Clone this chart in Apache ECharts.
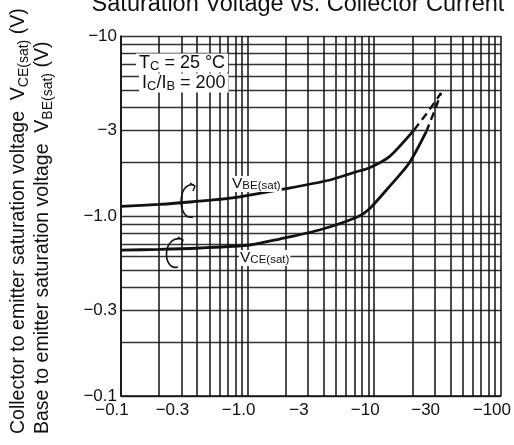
<!DOCTYPE html>
<html>
<head>
<meta charset="utf-8">
<script src="https://cdn.jsdelivr.net/npm/echarts@6/dist/echarts.min.js"></script>
<style>
  html, body { margin: 0; padding: 0; background: #fff; }
  #chart { width: 514px; height: 445px; }
</style>
</head>
<body>
<div id="chart"></div>
<script>
// collector current -Ic (A) vs saturation voltage (V), both plotted as magnitudes
var vbeCurrent = [0.1, 0.2, 0.37, 0.76, 1.9, 4.4, 7, 9.1, 13.1, 20.6]
var vbeVoltage = [1.13, 1.16, 1.2, 1.26, 1.41, 1.58, 1.75, 1.85, 2.13, 3.0]
var vbeDashCurrent = [20.6, 27, 33.7]
var vbeDashVoltage = [3.0, 3.85, 4.82]

var vceCurrent = [0.1, 0.2, 0.42, 1.04, 1.79, 3.69, 7.35, 9.14, 13.1, 18.9, 25.7]
var vceVoltage = [0.647, 0.652, 0.664, 0.69, 0.745, 0.836, 0.987, 1.094, 1.45, 1.97, 2.93]
var vceDashCurrent = [25.7, 30, 33.7]
var vceDashVoltage = [2.93, 3.85, 4.82]

var xLabelValues = [0.1, 0.3, 1, 3, 10, 30, 100]
var xLabelText = ['−0.1', '−0.3', '−1.0', '−3', '−10', '−30', '−100']
var yLabelValues = [0.1, 0.3, 1, 3, 10]
var yLabelText = ['−0.1', '−0.3', '−1.0', '−3', '−10']

var logGrid = function (from, to) {
  var out = []
  for (var d = from; d < to * 0.999; d *= 10) {
    for (var m = 1; m < 10; m++) out.push(+(m * d).toPrecision(3))
  }
  out.push(to)
  return out
}
var xGrid = logGrid(0.1, 100)
var yGrid = logGrid(0.1, 10)

var pick = function (values, texts) {
  return function (v) {
    for (var i = 0; i < values.length; i++) {
      if (Math.abs(v - values[i]) < values[i] * 1e-6) return texts[i]
    }
    return ''
  }
}
var pair = function (xs, ys) {
  return xs.map(function (x, i) { return [x, ys[i]] })
}

var font = 'Liberation Sans, Arial, sans-serif'
var ink = '#111'

var chart = echarts.init(document.getElementById('chart'))

var lineSeries = function (data, dashed) {
  return {
    type: 'line',
    data: data,
    showSymbol: false,
    smooth: dashed ? false : 0.25,
    silent: true,
    z: 5,
    lineStyle: { color: ink, width: dashed ? 2.4 : 2.8, type: dashed ? [8, 5] : 'solid' }
  }
}

var subText = function (x, y, text, big, small, lh, pad) {
  return {
    type: 'text', x: x, y: y, z: 100,
    style: {
      text: text,
      verticalAlign: 'middle', backgroundColor: '#fff', padding: pad, fill: ink,
      rich: {
        n: { fontSize: big, fontFamily: font, lineHeight: lh, verticalAlign: 'middle' },
        s: { fontSize: small, fontFamily: font, lineHeight: lh, verticalAlign: 'bottom' }
      }
    }
  }
}

var sideTitle = function (x, text) {
  return {
    type: 'text', x: x, y: 434, rotation: Math.PI / 2, z: 100,
    style: {
      text: text,
      align: 'left', verticalAlign: 'middle', fill: ink,
      rich: {
        n: { fontSize: 19.5, fontFamily: font, lineHeight: 25, verticalAlign: 'middle' },
        s: { fontSize: 14, fontFamily: font, lineHeight: 25, verticalAlign: 'bottom' }
      }
    }
  }
}

var option = {
  animation: false,
  grid: { left: 121, right: 12, top: 36, bottom: 49 },
  xAxis: {
    type: 'log',
    logBase: 10,
    min: 0.1,
    max: 100,
    axisLine: { show: true, lineStyle: { color: ink, width: 1.6 } },
    axisTick: { show: false, customValues: xGrid },
    splitLine: { show: true, lineStyle: { color: '#111', width: 1.5 } },
    axisLabel: {
      customValues: xLabelValues,
      formatter: pick(xLabelValues, xLabelText),
      color: ink,
      fontFamily: font,
      fontSize: 17,
      margin: 6,
      padding: [0, 18, 0, 0]
    }
  },
  yAxis: {
    type: 'log',
    logBase: 10,
    min: 0.1,
    max: 10,
    axisLine: { show: true, lineStyle: { color: ink, width: 1.6 } },
    axisTick: { show: false, customValues: yGrid },
    splitLine: { show: true, lineStyle: { color: '#333', width: 1.3 } },
    axisLabel: {
      customValues: yLabelValues,
      formatter: pick(yLabelValues, yLabelText),
      color: ink,
      fontFamily: font,
      fontSize: 17,
      margin: 4
    }
  },
  series: [
    lineSeries(pair(vbeCurrent, vbeVoltage), false),
    lineSeries(pair(vbeDashCurrent, vbeDashVoltage), true),
    lineSeries(pair(vceCurrent, vceVoltage), false),
    lineSeries(pair(vceDashCurrent, vceDashVoltage), true)
  ],
  graphic: [
    {
      type: 'text', x: 298, y: 5, z: 100,
      style: {
        text: 'Saturation Voltage vs. Collector Current',
        align: 'center', verticalAlign: 'middle',
        font: '23.5px ' + font, fill: ink
      }
    },
    sideTitle(19, '{n|Collector to emitter saturation voltage  V}{s|CE(sat)}{n| (V)}'),
    sideTitle(43, '{n|Base to emitter saturation voltage  V}{s|BE(sat)}{n| (V)}'),
    subText(136, 63, '{n|T}{s|C}{n| = 25 °C}', 18, 13, 19, [0, 3, 0, 3]),
    subText(139, 83, '{n|I}{s|C}{n|/I}{s|B}{n| = 200}', 18, 13, 19, [0, 3, 0, 3]),
    subText(231, 184, '{n|V}{s|BE(sat)}', 15.5, 11.5, 16, [0, 1, 0, 1]),
    subText(239, 258, '{n|V}{s|CE(sat)}', 15.5, 11.5, 16, [0, 1, 0, 1]),
    {
      type: 'bezierCurve', z: 100,
      shape: { x1: 194, y1: 185, cpx1: 177, cpy1: 181, cpx2: 177, cpy2: 221, x2: 193, y2: 217 },
      style: { stroke: ink, fill: null, lineWidth: 1.6 }
    },
    {
      type: 'polyline', z: 100,
      shape: { points: [[190, 183], [195, 186], [193, 191]] },
      style: { stroke: ink, fill: null, lineWidth: 1.4 }
    },
    {
      type: 'bezierCurve', z: 100,
      shape: { x1: 182, y1: 239, cpx1: 162, cpy1: 235, cpx2: 162, cpy2: 271, x2: 178, y2: 267 },
      style: { stroke: ink, fill: null, lineWidth: 1.6 }
    },
    {
      type: 'polyline', z: 100,
      shape: { points: [[178, 237], [183, 240], [181, 245]] },
      style: { stroke: ink, fill: null, lineWidth: 1.4 }
    }
  ]
}

chart.setOption(option)
</script>
</body>
</html>
